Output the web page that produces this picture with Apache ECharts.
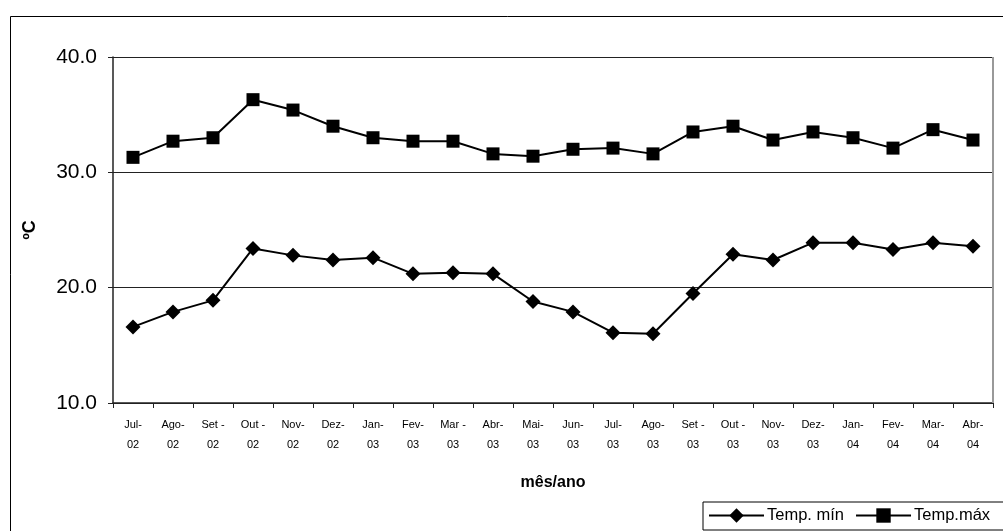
<!DOCTYPE html>
<html><head><meta charset="utf-8">
<script src="https://cdn.jsdelivr.net/npm/echarts@6/dist/echarts.min.js"></script>
<style>html,body{margin:0;padding:0;background:#fff}#c{width:1003px;height:531px}</style>
</head><body><div id="c"></div>
<script>
const categories = ['Jul-\n02','Ago-\n02','Set -\n02','Out -\n02','Nov-\n02','Dez-\n02','Jan-\n03','Fev-\n03','Mar -\n03','Abr-\n03','Mai-\n03','Jun-\n03','Jul-\n03','Ago-\n03','Set -\n03','Out -\n03','Nov-\n03','Dez-\n03','Jan-\n04','Fev-\n04','Mar-\n04','Abr-\n04'];
const tempMin = [16.6,17.9,18.9,23.4,22.8,22.4,22.6,21.2,21.3,21.2,18.8,17.9,16.1,16.0,19.5,22.9,22.4,23.9,23.9,23.3,23.9,23.6];
const tempMax = [31.3,32.7,33.0,36.3,35.4,34.0,33.0,32.7,32.7,31.6,31.4,32.0,32.1,31.6,33.5,34.0,32.8,33.5,33.0,32.1,33.7,32.8];
const yTicks = {min:10, max:40, interval:10};

const chart = echarts.init(document.getElementById('c'), null, {renderer:'canvas'});
chart.setOption({
  animation:false,
  backgroundColor:'#fff',
  textStyle:{fontFamily:'Liberation Sans, Arial, sans-serif', color:'#000'},
  graphic:[{type:'rect', left:8, top:14, shape:{width:1000, height:530}, style:{fill:'none', stroke:'#000', lineWidth:1}, silent:true, z:-1}],
  grid:{left:113, right:10, top:57, bottom:128},
  legend:{
    left:703, top:502, width:340, orient:'horizontal',
    borderColor:'#000', borderWidth:1, padding:[5,24,6,5],
    itemWidth:55, itemHeight:18, itemGap:11,
    textStyle:{fontSize:16.5, color:'#000', fontFamily:'Liberation Sans, Arial, sans-serif', padding:[0,0,0,-2]},
    data:['Temp. mín','Temp.máx']
  },
  xAxis:{
    type:'category', data:categories, boundaryGap:true,
    name:'mês/ano', nameLocation:'middle', nameGap:72,
    nameTextStyle:{fontSize:16, fontWeight:'bold', color:'#000'},
    axisLine:{lineStyle:{color:'#222', width:1.5}},
    axisTick:{show:true, alignWithLabel:false, length:5, lineStyle:{color:'#222'}},
    axisLabel:{fontSize:11, color:'#000', lineHeight:20, margin:12, interval:0}
  },
  yAxis:{
    type:'value', min:yTicks.min, max:yTicks.max, interval:yTicks.interval,
    name:'ºC', nameLocation:'middle', nameGap:74, nameRotate:90,
    nameTextStyle:{fontSize:18, fontWeight:'bold', color:'#000'},
    axisLine:{show:true, lineStyle:{color:'#222', width:1.5}},
    axisTick:{show:true, length:5, lineStyle:{color:'#222'}},
    axisLabel:{fontSize:21, color:'#000', margin:16, formatter:v=>v.toFixed(1)},
    splitLine:{show:true, lineStyle:{color:'#222', width:1}}
  },
  series:[
    {name:'Temp. mín', type:'line', data:tempMin, symbol:'diamond', symbolSize:15,
     itemStyle:{color:'#000'}, lineStyle:{color:'#000', width:2}},
    {name:'Temp.máx', type:'line', data:tempMax, symbol:'rect', symbolSize:13,
     itemStyle:{color:'#000'}, lineStyle:{color:'#000', width:2}},
    {type:'line', data:[], markLine:{silent:true, symbol:'none', label:{show:false}, lineStyle:{color:'#999', type:'solid', width:2}, data:[[{x:993,y:57},{x:993,y:403}]]}}
  ]
});
</script></body></html>
